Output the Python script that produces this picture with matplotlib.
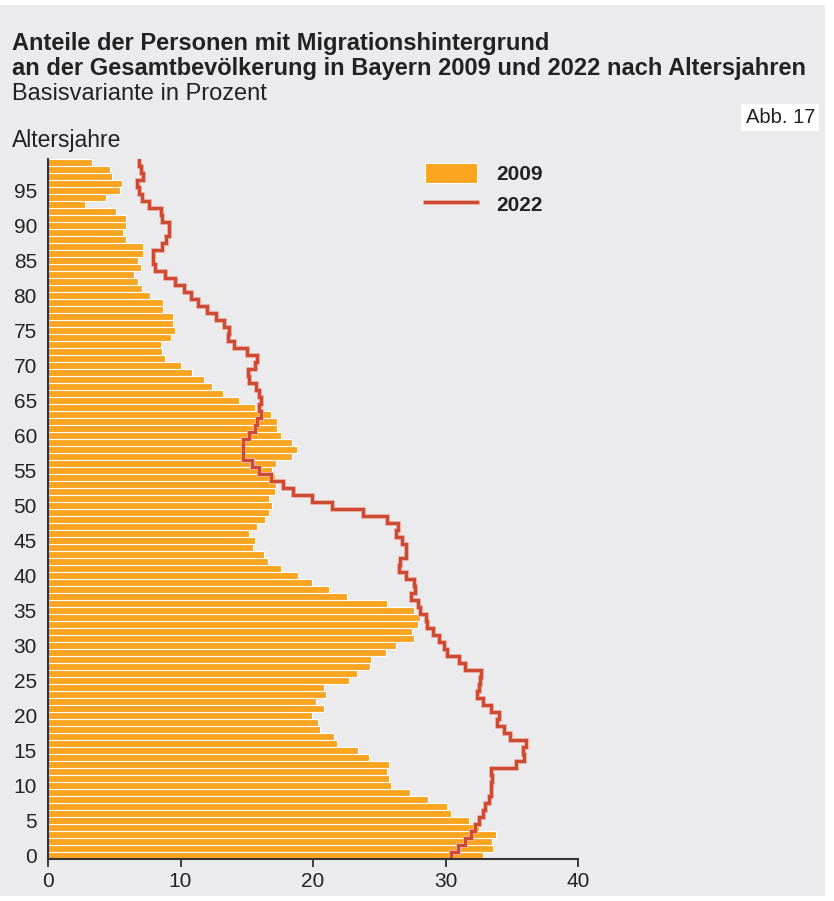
import numpy as np
import matplotlib
matplotlib.use('Agg')
import matplotlib.pyplot as plt
from matplotlib.patches import Rectangle
import matplotlib.patheffects as pe

plt.rcParams['font.family'] = ['Liberation Sans', 'DejaVu Sans']

# share of persons with migration background by age (0..99), in percent
ages = np.arange(0, 100)
share_2009 = [
    32.8, 33.6, 33.5, 33.8, 32.5, 31.8, 30.4, 30.1, 28.7, 27.3,
    25.9, 25.7, 25.6, 25.7, 24.2, 23.4, 21.8, 21.6, 20.5, 20.4,
    19.9, 20.8, 20.2, 21.0, 20.8, 22.7, 23.3, 24.3, 24.4, 25.5,
    26.3, 27.6, 27.5, 27.9, 28.1, 27.6, 25.6, 22.6, 21.2, 19.9,
    18.9, 17.6, 16.6, 16.3, 15.5, 15.6, 15.2, 15.8, 16.4, 16.7,
    16.9, 16.7, 17.1, 17.2, 17.1, 16.9, 17.2, 18.4, 18.8, 18.4,
    17.6, 17.3, 17.3, 16.8, 15.6, 14.4, 13.2, 12.4, 11.8, 10.9,
    10.0, 8.8, 8.6, 8.5, 9.25, 9.55, 9.4, 9.4, 8.7, 8.7,
    7.7, 7.1, 6.8, 6.5, 7.0, 6.8, 7.2, 7.2, 5.85, 5.65,
    5.9, 5.9, 5.1, 2.8, 4.4, 5.4, 5.55, 4.8, 4.7, 3.3,
]
share_2022 = [
    30.4, 30.95, 31.45, 31.9, 32.2, 32.5, 32.8, 33.0, 33.3, 33.4,
    33.45, 33.5, 33.45, 35.3, 35.95, 35.85, 36.1, 34.9, 34.45, 33.9,
    34.0, 33.4, 32.8, 32.4, 32.5, 32.6, 32.65, 31.5, 31.0, 30.1,
    29.9, 29.5, 29.05, 28.6, 28.5, 28.05, 27.9, 27.4, 27.7, 27.6,
    27.05, 26.5, 26.6, 27.05, 27.0, 26.75, 26.3, 26.4, 25.6, 23.8,
    21.4, 19.9, 18.5, 17.7, 16.8, 15.9, 15.4, 14.7, 14.7, 14.7,
    15.15, 15.6, 15.8, 16.05, 15.9, 16.1, 15.95, 15.7, 15.2, 15.1,
    15.6, 15.8, 15.0, 14.05, 13.6, 13.65, 13.25, 12.7, 12.0, 11.3,
    10.8, 10.25, 9.6, 8.8, 8.05, 7.95, 7.95, 8.6, 8.9, 9.1,
    9.15, 8.6, 8.55, 7.65, 7.1, 6.9, 6.7, 7.15, 7.05, 6.9,
]
yticks = list(range(0, 100, 5))
xticks = [0, 10, 20, 30, 40]

W, H = 834, 901
fig = plt.figure(figsize=(W / 100, H / 100), dpi=100)
fig.patch.set_facecolor('white')
# grey panel behind everything
fig.patches.append(Rectangle((0, 5 / H), 825 / W, 1 - 10 / H, transform=fig.transFigure,
                             facecolor='#ebebed', edgecolor='none', zorder=-10))

ax = fig.add_axes([48 / W, (H - 858.5) / H, 530 / W, (858.5 - 159) / H])
ax.set_facecolor('none')

bars = ax.barh(ages, share_2009, height=1.0, color='#f9a51f', edgecolor='white',
               linewidth=0.8, label='2009')

# 2022 as a staircase: one vertical segment per age band
ys = np.repeat(ages, 2) + np.tile([-0.5, 0.5], len(ages))
xs = np.repeat(share_2022, 2)
line, = ax.plot(xs, ys, color='#cf4a33', lw=2.4, solid_joinstyle='miter', label='2022',
                path_effects=[pe.Stroke(linewidth=3.6, foreground='#eec3b9'), pe.Normal()])

ax.set_xlim(0, 40)
ax.set_ylim(-0.5, 99.5)
ax.set_xticks(xticks)
ax.set_yticks(yticks)
ax.tick_params(axis='y', length=0, pad=8, labelsize=15, colors='#222222')
ax.tick_params(axis='x', length=6, width=1.2, pad=4, labelsize=15, colors='#222222',
               direction='out')
for s in ['top', 'right']:
    ax.spines[s].set_visible(False)
for s in ['left', 'bottom']:
    ax.spines[s].set_color('#333333')
    ax.spines[s].set_linewidth(1.5)

leg = ax.legend(handles=[bars, line], loc='upper left',
                bbox_to_anchor=(425 / W, 1 - 163 / H), bbox_transform=fig.transFigure,
                frameon=False, prop={'weight': 'bold', 'size': 15},
                handlelength=2.5, handleheight=1.1, handletextpad=0.9,
                labelspacing=0.45, borderpad=0, borderaxespad=0)
for t in leg.get_texts():
    t.set_color('#222222')

fig.text(12 / W, 1 - 50 / H, 'Anteile der Personen mit Migrationshintergrund',
         fontsize=17, fontweight='bold', va='baseline', color='#222222')
fig.text(12 / W, 1 - 75 / H, 'an der Gesamtbevölkerung in Bayern 2009 und 2022 nach Altersjahren',
         fontsize=17, fontweight='bold', va='baseline', color='#222222')
fig.text(12 / W, 1 - 100 / H, 'Basisvariante in Prozent',
         fontsize=17, va='baseline', color='#222222')
fig.text(815 / W, 1 - 123 / H, 'Abb. 17', fontsize=14.5, va='baseline', ha='right',
         color='#222222', bbox=dict(facecolor='white', edgecolor='none', pad=3))
fig.text(12 / W, 1 - 147 / H, 'Altersjahre', fontsize=16.5, va='baseline', color='#222222')

fig.savefig('out.png', dpi=100)
